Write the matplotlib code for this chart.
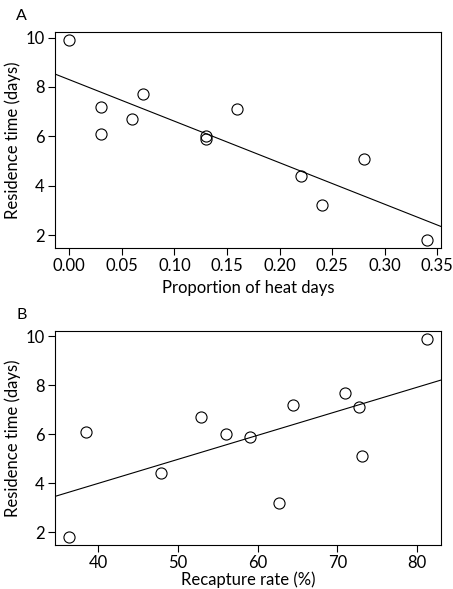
import numpy as np
import matplotlib
matplotlib.use("Agg")
import matplotlib.pyplot as plt

plt.rcParams['font.family'] = ['Lato', 'DejaVu Sans']

# residence time (days) for the 12 sites
residence = [9.9, 7.2, 6.1, 6.7, 7.7, 6.0, 5.9, 7.1, 4.4, 3.2, 5.1, 1.8]
# proportion of heat days
heat_prop = [0.00, 0.03, 0.03, 0.06, 0.07, 0.13, 0.13, 0.16, 0.22, 0.24, 0.28, 0.34]
# recapture rate (%)
recapture = [81.2, 64.5, 38.5, 52.9, 71.0, 56.0, 59.0, 72.7, 47.9, 62.7, 73.1, 36.4]

panels = [
    ("A", heat_prop, "Proportion of heat days",
     [0.0, 0.05, 0.1, 0.15, 0.2, 0.25, 0.3, 0.35], "{:.2f}", 4),
    ("B", recapture, "Recapture rate (%)",
     [40, 50, 60, 70, 80], "{:.0f}", 0),
]

fig = plt.figure(figsize=(4.53, 5.89), dpi=100)
boxes = [[55/453, 1-248/589, 386/453, 216/589],
         [55/453, 1-545/589, 386/453, 214/589]]

for (lab, xs, xlab, xt, fmt, lp), box in zip(panels, boxes):
    ax = fig.add_axes(box)
    x = np.array(xs)
    y = np.array(residence)
    # R-style 4% padding
    xr = x.max() - x.min()
    yr = y.max() - y.min()
    xlo, xhi = x.min() - 0.04*xr, x.max() + 0.04*xr
    ax.set_xlim(xlo, xhi)
    ax.set_ylim(y.min() - 0.04*yr, y.max() + 0.04*yr)
    ax.plot(x, y, 'o', mfc='none', mec='black', ms=8, mew=0.8)
    b, a = np.polyfit(x, y, 1)
    xx = np.array([xlo, xhi])
    ax.plot(xx, a + b*xx, color='black', lw=0.8)
    ax.set_xticks(xt)
    ax.set_xticklabels([fmt.format(v) for v in xt])
    ax.set_yticks([2, 4, 6, 8, 10])
    ax.tick_params(direction='out', length=5, width=0.8, labelsize=12, pad=2.5)
    for s in ax.spines.values():
        s.set_linewidth(0.8)
    ax.set_xlabel(xlab, fontsize=12, labelpad=lp)
    ax.set_ylabel("Residence time (days)", fontsize=12, labelpad=3)
    fig.text(16/453, box[1] + box[3] + 16/589, lab, fontsize=11.5, va='center')

fig.savefig("out.png", dpi=100)
